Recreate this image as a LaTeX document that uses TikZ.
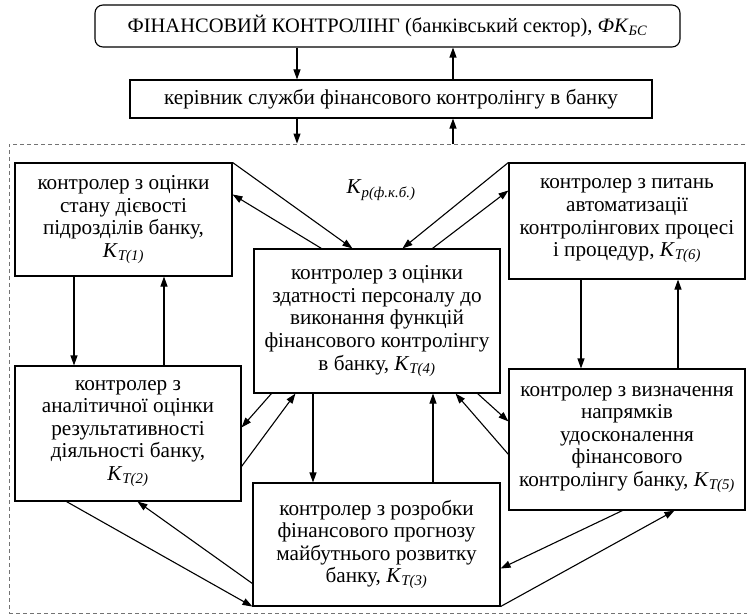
\documentclass[tikz,border=0pt]{standalone}
\usepackage{fontspec}
\setmainfont{Liberation Serif}
\usepackage{tikz}
\usetikzlibrary{arrows.meta}
\newcommand{\ctlidx}[2]{\textit{#1}\textsubscript{\textit{#2}}}

\begin{document}
\begin{tikzpicture}
	[x=1pt, y=-1pt,
	ctrl/.style={draw, line width=1.1pt, align=center, inner sep=1pt, font=\fontsize{21.2}{22.6}\selectfont},
	zone/.style={draw=black!55, dash pattern=on 4pt off 3pt, line width=0.9pt, minimum width=739, minimum height=469},
	link/.style={line width=1.1pt, -{Triangle[length=10pt,width=7pt]}}]
	\useasboundingbox (0,0) rectangle (747,615);
	\node[zone] (zone) at (378.5,378.5) {};
	\node[ctrl, rounded corners=8pt, minimum width=585, minimum height=42, font=\fontsize{20.5}{24}\selectfont] (head) at (387.5,26)
		{ФІНАНСОВИЙ КОНТРОЛІНГ (банківський сектор), \ctlidx{ФК}{БС}};
	\node[ctrl, minimum width=522, minimum height=38] (chief) at (391,99)
		{керівник служби фінансового контролінгу в банку};
	\node[ctrl, minimum width=217, minimum height=113] (k1) at (123.5,219.5)
		{контролер з оцінки\\стану дієвості\\підрозділів банку,\\\ctlidx{K}{T(1)}};
	\node[ctrl, minimum width=226, minimum height=135] (k2) at (128,433.5)
		{контролер з\\аналітичної оцінки\\результативності\\діяльності банку,\\\ctlidx{K}{T(2)}};
	\node[ctrl, minimum width=247, minimum height=123] (k3) at (376.5,544.5)
		{контролер з розробки\\фінансового прогнозу\\майбутнього розвитку\\банку, \ctlidx{K}{T(3)}};
	\node[ctrl, minimum width=246, minimum height=144] (k4) at (377,321)
		{контролер з оцінки\\здатності персоналу до\\виконання функцій\\фінансового контролінгу\\в банку, \ctlidx{K}{T(4)}};
	\node[ctrl, minimum width=236, minimum height=141] (k5) at (627,439.5)
		{контролер з визначення\\напрямків\\удосконалення\\фінансового\\контролінгу банку, \ctlidx{K}{T(5)}};
	\node[ctrl, minimum width=236, minimum height=116] (k6) at (627,221)
		{контролер з питань\\автоматизації\\контролінгових процесі\\і процедур, \ctlidx{K}{T(6)}};
	\node[font=\fontsize{21.2}{22.6}\selectfont] (kp) at (381,190) {\ctlidx{K}{р(ф.к.б.)}};
	\coordinate (xa) at (297,0);
	\coordinate (xb) at (453,0);
	\coordinate (xc) at (74,0);
	\coordinate (xd) at (164,0);
	\coordinate (xe) at (581,0);
	\coordinate (xf) at (678,0);
	\coordinate (xg) at (313,0);
	\coordinate (xh) at (433,0);
	\draw[link] (head.south -| xa) -- (chief.north -| xa);
	\draw[link] (chief.north -| xb) -- (head.south -| xb);
	\draw[link] (chief.south -| xa) -- (zone.north -| xa);
	\draw[link] (zone.north -| xb) -- (chief.south -| xb);
	\draw[link] (k1.south -| xc) -- (k2.north -| xc);
	\draw[link] (k2.north -| xd) -- (k1.south -| xd);
	\draw[link] (k6.south -| xe) -- (k5.north -| xe);
	\draw[link] (k5.north -| xf) -- (k6.south -| xf);
	\draw[link] (k4.south -| xg) -- (k3.north -| xg);
	\draw[link] (k3.north -| xh) -- (k4.south -| xh);
	\draw[link] (k1.north east) -- ([xshift=99pt]k4.north west);
	\draw[link] ([xshift=68pt]k4.north west) -- ([yshift=-32pt]k1.north east);
	\draw[link] (k6.north west) -- ([xshift=149pt]k4.north west);
	\draw[link] ([xshift=179pt]k4.north west) -- ([yshift=-28pt]k6.north west);
	\draw[link] ([xshift=18pt]k4.south west) -- ([yshift=-62pt]k2.north east);
	\draw[link] ([yshift=-101pt]k2.north east) -- ([xshift=42pt]k4.south west);
	\draw[link] ([xshift=-23pt]k4.south east) -- ([yshift=-53pt]k5.north west);
	\draw[link] ([yshift=-86pt]k5.north west) -- ([xshift=-45pt]k4.south east);
	\draw[link] ([xshift=52pt]k2.south west) -- (k3.south west);
	\draw[link] ([yshift=23pt]k3.south west) -- ([xshift=123pt]k2.south west);
	\draw[link] ([xshift=114pt]k5.south west) -- ([yshift=38pt]k3.south east);
	\draw[link] (k3.south east) -- ([xshift=166pt]k5.south west);
\end{tikzpicture}
\end{document}
